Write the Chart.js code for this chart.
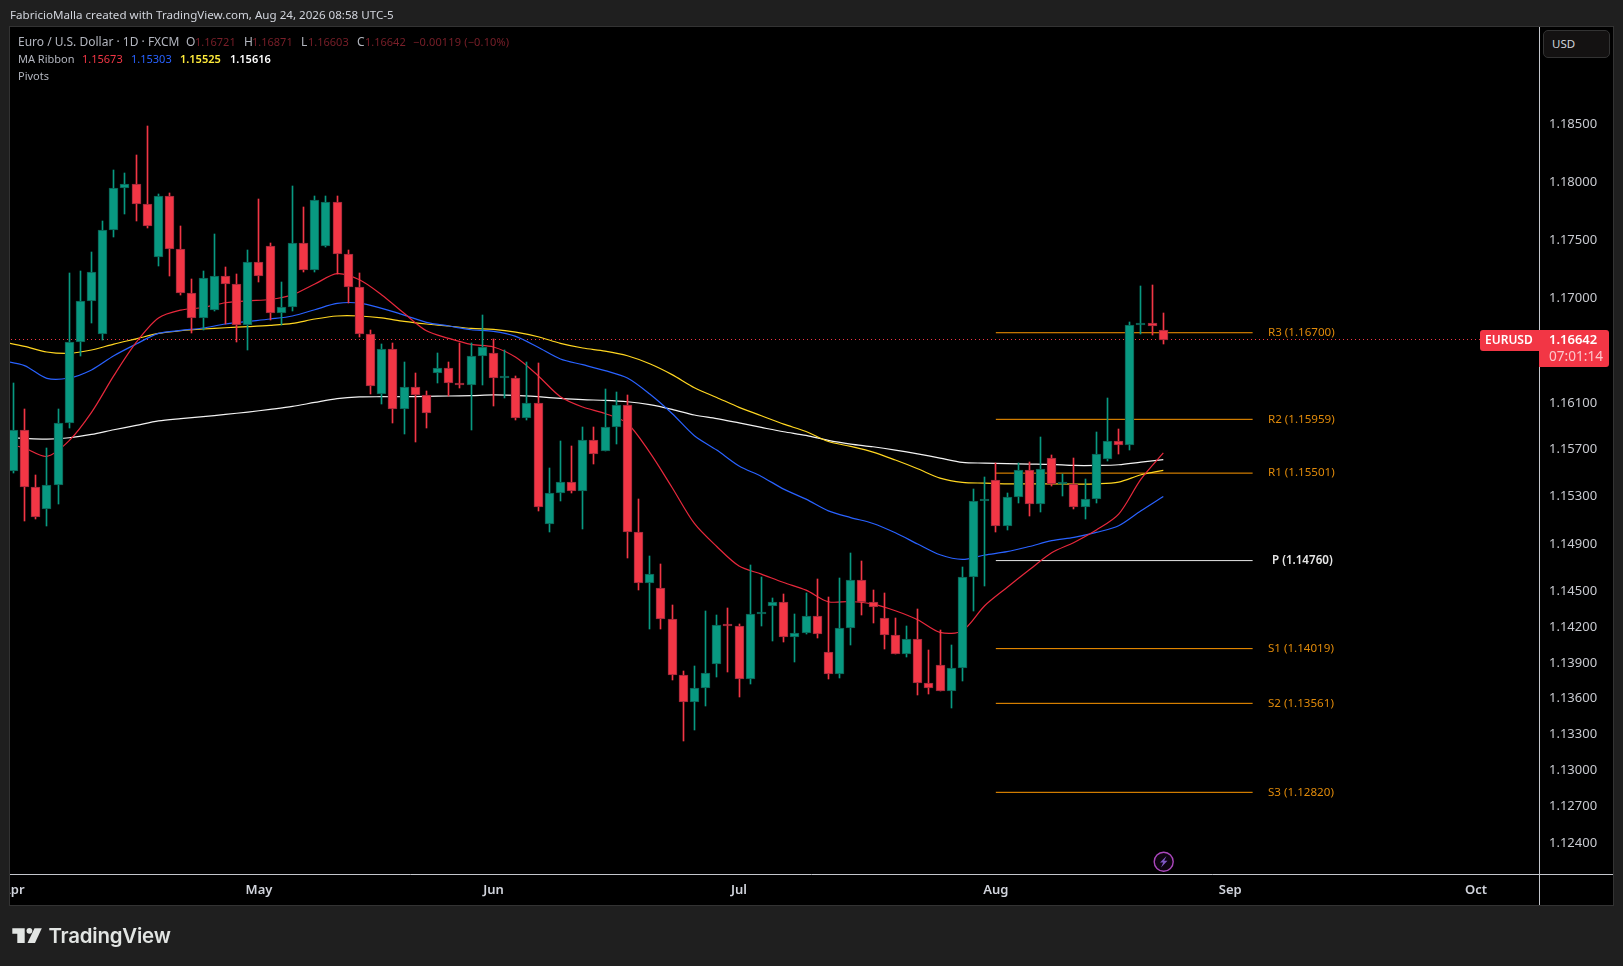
<!DOCTYPE html>
<html>
<head>
<meta charset="utf-8">
<title>EURUSD</title>
<style>
  html, body { margin: 0; padding: 0; background: #1f1f1f; width: 1623px; height: 966px; overflow: hidden; }
  canvas { position: absolute; left: 0; top: 0; }
  .t { position: absolute; font: 12px "Noto Sans", sans-serif; white-space: nowrap; line-height: 14px; color: #b2b5be; }
  .v { font-size: 11px; }
  #usd { position: absolute; left: 1543px; top: 30px; width: 65px; height: 26px; background: #141212; border: 1px solid #333; border-radius: 5px; }
</style>
<script src="https://cdn.jsdelivr.net/npm/chart.js@4/dist/chart.umd.min.js"></script>
</head>
<body>
<canvas id="chart" width="1623" height="966"></canvas>

<div class="t" style="left:10px;top:8px;font-size:11.6px;color:#d1d4dc">FabricioMalla created with TradingView.com, Aug 24, 2026 08:58 UTC-5</div>

<div class="t" style="left:18px;top:35px">Euro / U.S. Dollar · 1D · FXCM</div>
<div class="t" style="left:186px;top:35px">O</div><div class="t v" style="left:195px;top:35px;color:#7a1f29">1.16721</div>
<div class="t" style="left:244px;top:35px">H</div><div class="t v" style="left:252px;top:35px;color:#7a1f29">1.16871</div>
<div class="t" style="left:301px;top:35px">L</div><div class="t v" style="left:308px;top:35px;color:#7a1f29">1.16603</div>
<div class="t" style="left:357px;top:35px">C</div><div class="t v" style="left:365px;top:35px;color:#7a1f29">1.16642</div>
<div class="t v" style="left:413px;top:35px;color:#7a1f29;letter-spacing:0.15px">−0.00119 (−0.10%)</div>
<div class="t" style="left:18px;top:52px;font-size:11px">MA Ribbon</div>
<div class="t v" style="left:82px;top:52px;color:#f23645">1.15673</div>
<div class="t v" style="left:131px;top:52px;color:#2962ff">1.15303</div>
<div class="t v" style="left:180px;top:52px;color:#ffeb3b;font-weight:600">1.15525</div>
<div class="t v" style="left:230px;top:52px;color:#fff;font-weight:600">1.15616</div>
<div class="t" style="left:18px;top:69px;font-size:11px">Pivots</div>

<div id="usd"></div>
<div class="t" style="left:1552px;top:37px;color:#d1d4dc;font-size:11.5px">USD</div>

<svg style="position:absolute;left:1152px;top:850px" width="24" height="24" viewBox="0 0 24 24">
  <circle cx="11.7" cy="11.7" r="9.5" fill="#0d0410" stroke="#ab47bc" stroke-width="1.4"/>
  <polygon points="14.5,6 8,12.6 11.2,12.6 9,17.5 15.5,10.8 12.2,10.8" fill="#7e57c2"/>
</svg>

<svg style="position:absolute;left:0;top:915px" width="48" height="45" viewBox="0 0 48 45">
  <path d="M12.3 13.3H24.7V28H17.3V18.7H12.3Z" fill="#e2e5e3"/>
  <circle cx="29.4" cy="15.8" r="2.9" fill="#e2e5e3"/>
  <polygon points="34.5,13.3 41.8,13.3 35,28 27.5,28" fill="#e2e5e3"/>
</svg>
<div class="t" style="left:48.5px;top:921px;font:600 20.4px/30px Inter,sans-serif;color:#e2e5e3;letter-spacing:-0.2px">TradingView</div>

<script>
// daily candles, Apr 1 to Aug 24 (bar 0 = Apr 1)
const opens = [
  1.15518,1.15868,1.15382,1.15196,1.15399,1.15928,1.16621,1.16972,1.16689,1.17585,
  1.17949,1.17984,1.17810,1.17352,1.17880,1.17419,1.17041,1.16827,1.16895,1.17188,
  1.17119,1.16766,1.17309,1.17447,1.16869,1.16921,1.17473,1.17240,1.17447,1.17828,
  1.17378,1.17094,1.16689,1.16175,1.16560,1.16047,1.16235,1.16167,1.16355,1.16398,
  1.16270,1.16253,1.16501,1.16526,1.16309,1.16312,1.15970,1.16098,1.15069,1.15331,
  1.15425,1.15348,1.15782,1.15688,1.15893,1.16081,1.15001,1.14570,1.14528,1.14267,
  1.13798,1.13572,1.13689,1.13890,1.14219,1.14208,1.13764,1.14309,1.14376,1.14410,
  1.14116,1.14150,1.14292,1.13990,1.13806,1.14191,1.14597,1.14410,1.14275,1.14132,
  1.13973,1.14099,1.13731,1.13881,1.13664,1.13856,1.14621,1.15266,1.15442,1.15052,
  1.15297,1.15527,1.15238,1.15629,1.15408,1.15408,1.15213,1.15280,1.15620,1.15774,
  1.15740,1.16766,1.16783,1.16721];
const highs = [
  1.16272,1.16047,1.15487,1.15714,1.16047,1.17214,1.17234,1.17397,1.17666,1.18106,
  1.18083,1.18239,1.18491,1.17897,1.17906,1.17620,1.17165,1.17234,1.17550,1.17268,
  1.17205,1.17412,1.17854,1.17475,1.17136,1.17966,1.17787,1.17880,1.17880,1.17880,
  1.17412,1.17214,1.16724,1.16603,1.16615,1.16452,1.16355,1.16201,1.16526,1.16449,
  1.16612,1.16612,1.16855,1.16644,1.16552,1.16329,1.16452,1.16441,1.15544,1.15777,
  1.15731,1.15893,1.15893,1.16218,1.16192,1.16167,1.15280,1.14798,1.14731,1.14387,
  1.13831,1.13873,1.14335,1.14303,1.14360,1.14228,1.14722,1.14621,1.14444,1.14480,
  1.14312,1.14489,1.14607,1.14452,1.14615,1.14824,1.14759,1.14514,1.14489,1.14278,
  1.14211,1.14354,1.14009,1.14174,1.14051,1.14705,1.15365,1.15470,1.15586,1.15331,
  1.15589,1.15595,1.15810,1.15654,1.15493,1.15629,1.15450,1.15851,1.16144,1.15878,
  1.16795,1.17104,1.17113,1.16871];
const lows = [
  1.15498,1.15091,1.15108,1.15049,1.15243,1.15881,1.16503,1.16780,1.16638,1.17527,
  1.17720,1.17666,1.17599,1.17277,1.17190,1.17027,1.16694,1.16724,1.16889,1.16775,
  1.16617,1.16549,1.17139,1.16809,1.16766,1.16889,1.17222,1.17219,1.17440,1.17205,
  1.16952,1.16660,1.16172,1.16086,1.15924,1.15830,1.15762,1.15881,1.16272,1.16155,
  1.16223,1.15871,1.16249,1.16069,1.16138,1.15950,1.15950,1.15181,1.14998,1.15266,
  1.15328,1.15023,1.15575,1.15685,1.15745,1.14778,1.14508,1.14180,1.14188,1.13753,
  1.13243,1.13335,1.13535,1.13784,1.13825,1.13616,1.13719,1.14205,1.14079,1.14077,
  1.13909,1.14141,1.14110,1.13767,1.13775,1.14051,1.14303,1.14236,1.14018,1.13973,
  1.13951,1.13633,1.13642,1.13664,1.13524,1.13745,1.14337,1.14548,1.15004,1.15021,
  1.15249,1.15139,1.15173,1.15393,1.15308,1.15198,1.15114,1.15249,1.15606,1.15666,
  1.15700,1.16689,1.16683,1.16603];
const closes = [
  1.15868,1.15382,1.15128,1.15399,1.15928,1.16621,1.16972,1.17222,1.17585,1.17949,
  1.17984,1.17810,1.17620,1.17880,1.17419,1.17041,1.16827,1.17171,1.17188,1.17119,
  1.16766,1.17309,1.17188,1.16869,1.16921,1.17473,1.17240,1.17845,1.17828,1.17378,
  1.17094,1.16689,1.16244,1.16560,1.16047,1.16235,1.16167,1.16013,1.16398,1.16270,
  1.16249,1.16501,1.16578,1.16312,1.16315,1.15970,1.16098,1.15213,1.15331,1.15425,
  1.15348,1.15782,1.15663,1.15893,1.16081,1.15001,1.14570,1.14646,1.14267,1.13798,
  1.13572,1.13689,1.13815,1.14216,1.14208,1.13764,1.14309,1.14323,1.14410,1.14116,
  1.14150,1.14292,1.14141,1.13806,1.14191,1.14597,1.14410,1.14368,1.14132,1.13973,
  1.14099,1.13731,1.13689,1.13664,1.13856,1.14621,1.15263,1.15272,1.15052,1.15297,
  1.15527,1.15238,1.15535,1.15408,1.15416,1.15213,1.15280,1.15663,1.15774,1.15740,
  1.16766,1.16783,1.16757,1.16642];

// MA ribbon, read every second bar (-1 is the bar just left of the window)
const maBars = [-1,1,3,5,7,9,11,13,15,17,19,21,23,25,27,29,31,33,35,37,39,41,43,45,47,49,51,53,55,57,59,61,63,65,67,69,71,73,75,77,79,81,83,85,87,89,91,93,95,97,99,101,103];
const maRed = [
  1.15762,1.15714,1.15643,1.15777,1.16018,1.16332,1.16617,1.16827,1.16895,1.16917,
  1.16958,1.16975,1.16986,1.17027,1.17119,1.17208,1.17156,1.17025,1.16867,1.16717,
  1.16652,1.16600,1.16578,1.16489,1.16332,1.16152,1.16064,1.16009,1.15924,1.15677,
  1.15379,1.15074,1.14879,1.14714,1.14646,1.14575,1.14511,1.14413,1.14415,1.14393,
  1.14337,1.14261,1.14155,1.14169,1.14379,1.14533,1.14682,1.14826,1.14913,1.15018,
  1.15153,1.15450,1.15673];
const maBlue = [
  1.16460,1.16418,1.16309,1.16312,1.16381,1.16503,1.16603,1.16694,1.16720,1.16741,
  1.16775,1.16797,1.16818,1.16844,1.16898,1.16952,1.16955,1.16909,1.16852,1.16789,
  1.16758,1.16726,1.16712,1.16669,1.16575,1.16475,1.16426,1.16375,1.16312,1.16175,
  1.16009,1.15819,1.15697,1.15561,1.15473,1.15365,1.15280,1.15181,1.15124,1.15074,
  1.14995,1.14900,1.14809,1.14770,1.14807,1.14835,1.14879,1.14928,1.14956,1.14998,
  1.15054,1.15181,1.15303];
const maYellow = [
  1.16623,1.16583,1.16535,1.16523,1.16552,1.16603,1.16648,1.16694,1.16717,1.16732,
  1.16743,1.16752,1.16763,1.16780,1.16818,1.16844,1.16844,1.16827,1.16797,1.16775,
  1.16758,1.16737,1.16729,1.16706,1.16666,1.16609,1.16569,1.16543,1.16503,1.16434,
  1.16341,1.16229,1.16146,1.16061,1.15990,1.15918,1.15855,1.15770,1.15728,1.15680,
  1.15612,1.15538,1.15459,1.15422,1.15416,1.15410,1.15410,1.15410,1.15408,1.15410,
  1.15425,1.15487,1.15525];
const maWhite = [
  1.15805,1.15796,1.15791,1.15802,1.15830,1.15870,1.15907,1.15945,1.15965,1.15982,
  1.16001,1.16021,1.16044,1.16069,1.16103,1.16135,1.16150,1.16152,1.16152,1.16155,
  1.16158,1.16161,1.16167,1.16163,1.16152,1.16138,1.16127,1.16121,1.16109,1.16084,
  1.16044,1.15996,1.15965,1.15928,1.15890,1.15853,1.15822,1.15779,1.15748,1.15725,
  1.15697,1.15665,1.15629,1.15592,1.15586,1.15581,1.15578,1.15575,1.15566,1.15566,
  1.15572,1.15595,1.15616];

const pivotNames = ['R3','R2','R1','P','S1','S2','S3'];
const pivotValues = [1.167,1.15959,1.15501,1.1476,1.14019,1.13561,1.1282];
const pivotFrom = 88;
const pivotTo = 111;

const priceTicks = [1.185,1.18,1.175,1.17,1.161,1.157,1.153,1.149,1.145,1.142,1.139,1.136,1.133,1.13,1.127,1.124];
const monthBars = [0,22,43,65,88,109,131];
const monthNames = ['Apr','May','Jun','Jul','Aug','Sep','Oct'];

const lastPrice = closes[closes.length - 1];
const countdown = '07:01:14';

const UP = '#089981', DOWN = '#f23645';
const FONT = '"Noto Sans", sans-serif';
const isUp = closes.map((c, i) => c >= opens[i]);
const bars = closes.map((c, i) => i);

function lineSet(label, data, color, order, extra) {
  return Object.assign({
    type: 'line', label, data, borderColor: color, borderWidth: 1.2,
    pointRadius: 0, tension: 0, order,
  }, extra);
}

// snap bars to whole pixels so wicks stay 1px
const snapCandles = {
  id: 'snapCandles',
  beforeDatasetsDraw(chart) {
    chart.getSortedVisibleDatasetMetas().forEach((meta) => {
      if (meta.type !== 'bar') return;
      meta.data.forEach((el) => {
        el.x = Math.floor(el.x) + 0.5;
        el.y = Math.round(el.y);
        el.base = Math.round(el.base);
      });
    });
  },
};

const panel = {
  id: 'panel',
  beforeDraw(chart) {
    const c = chart.ctx;
    c.save();
    c.fillStyle = '#000';
    c.fillRect(10, 27, 1603, 878);
    c.restore();
  },
  afterDraw(chart) {
    const c = chart.ctx;
    const y = chart.scales.y;
    const area = chart.chartArea;
    c.save();
    // cut the Apr label at the panel edge
    c.fillStyle = '#1f1f1f';
    c.fillRect(0, 27, 10, 878);
    c.strokeStyle = '#333';
    c.lineWidth = 1;
    c.strokeRect(9.5, 26.5, 1604, 879);
    c.strokeStyle = '#c4c6cc';
    c.beginPath();
    c.moveTo(area.right + 0.5, 27);
    c.lineTo(area.right + 0.5, 905);
    c.moveTo(10, area.bottom + 0.5);
    c.lineTo(1613, area.bottom + 0.5);
    c.stroke();

    // pivot labels
    c.textBaseline = 'middle';
    c.textAlign = 'left';
    pivotNames.forEach((name, i) => {
      const isP = name === 'P';
      c.font = (isP ? '600 ' : '') + '11.6px ' + FONT;
      c.fillStyle = isP ? '#e6e6e6' : '#e08a0a';
      const txt = name + ' (' + pivotValues[i].toFixed(5) + ')';
      c.fillText(txt, isP ? 1272 : 1268, y.getPixelForValue(pivotValues[i]));
    });

    // last price tags
    const py = Math.round(y.getPixelForValue(lastPrice));
    c.fillStyle = DOWN;
    c.beginPath();
    c.roundRect(1480, py - 10, 59, 21, [3, 0, 0, 3]);
    c.fill();
    c.beginPath();
    c.roundRect(area.right, py - 10, 70, 37, [0, 3, 3, 0]);
    c.fill();
    c.fillStyle = '#fff';
    c.font = '600 12px ' + FONT;
    c.fillText('EURUSD', 1485, py + 0.5);
    c.font = '600 13px ' + FONT;
    c.fillText(lastPrice.toFixed(5), 1549, py + 0.5);
    c.fillStyle = 'rgba(255,255,255,0.72)';
    c.font = '13.6px ' + FONT;
    c.fillText(countdown, 1549, py + 17);
    c.restore();
  },
};

new Chart(document.getElementById('chart'), {
  type: 'bar',
  data: {
    datasets: [
      {
        label: 'body',
        data: bars.map((i) => ({ x: i, y: [opens[i], closes[i]] })),
        backgroundColor: isUp.map((u) => (u ? UP : DOWN)),
        borderColor: isUp.map((u) => (u ? '#0c5c50' : '#97283a')),
        borderWidth: 1,
        borderSkipped: false,
        barThickness: 9,
        minBarLength: 2,
        order: 1,
      },
      {
        label: 'wick',
        data: bars.map((i) => ({ x: i, y: [lows[i], highs[i]] })),
        backgroundColor: isUp.map((u) => (u ? UP : DOWN)),
        borderWidth: 0,
        barThickness: 1,
        order: 2,
      },
      lineSet('red', maBars.map((b, i) => ({ x: b, y: maRed[i] })), '#e8283c', 3, { tension: 0.3 }),
      lineSet('blue', maBars.map((b, i) => ({ x: b, y: maBlue[i] })), '#2962ff', 3, { tension: 0.3 }),
      lineSet('yellow', maBars.map((b, i) => ({ x: b, y: maYellow[i] })), '#ffd620', 3, { tension: 0.3 }),
      lineSet('white', maBars.map((b, i) => ({ x: b, y: maWhite[i] })), '#f2f2f2', 3, { tension: 0.3 }),
      ...pivotNames.map((name, i) => lineSet(
        name,
        [{ x: pivotFrom, y: pivotValues[i] }, { x: pivotTo, y: pivotValues[i] }],
        name === 'P' ? '#e6e6e6' : '#ff9800',
        4,
        { borderWidth: 1 },
      )),
      lineSet('last', [{ x: -2, y: lastPrice }, { x: 140, y: lastPrice }], DOWN, 5, { borderWidth: 1, borderDash: [1, 3] }),
    ],
  },
  options: {
    responsive: false,
    devicePixelRatio: 1,
    animation: false,
    events: [],
    layout: { padding: { left: 10, top: 27, right: 10, bottom: 61 } },
    plugins: { legend: { display: false }, tooltip: { enabled: false } },
    scales: {
      x: {
        type: 'linear',
        stacked: true,
        offset: false,
        min: -0.3,
        max: 136.65,
        grid: { display: false, drawTicks: false },
        border: { display: false },
        afterBuildTicks: (axis) => { axis.ticks = monthBars.map((value) => ({ value })); },
        afterFit: (axis) => { axis.height = 31; axis.paddingLeft = 0; axis.paddingRight = 0; },
        ticks: {
          autoSkip: false,
          maxRotation: 0,
          padding: 8,
          color: '#d1d4dc',
          font: { family: FONT, size: 13, weight: '600' },
          callback: (value) => monthNames[monthBars.indexOf(value)],
        },
      },
      y: {
        type: 'logarithmic',
        position: 'right',
        min: 1.12144,
        max: 1.19355,
        grid: { display: false, drawTicks: false },
        border: { display: false },
        afterBuildTicks: (axis) => { axis.ticks = priceTicks.map((value) => ({ value })); },
        afterFit: (axis) => { axis.width = 74; axis.paddingTop = 0; axis.paddingBottom = 0; },
        ticks: {
          autoSkip: false,
          padding: 10,
          color: '#c8cad0',
          font: { family: FONT, size: 13 },
          callback: (value) => value.toFixed(5),
        },
      },
    },
  },
  plugins: [panel, snapCandles],
});
</script>
</body>
</html>
